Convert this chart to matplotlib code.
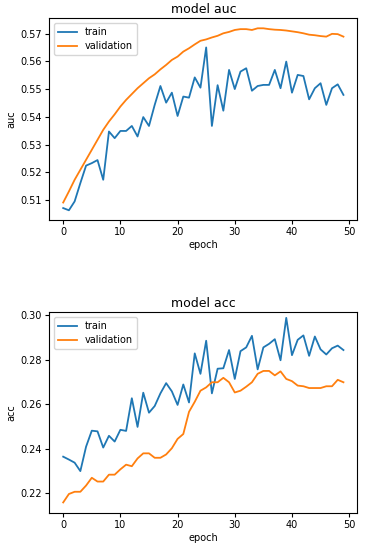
import matplotlib
matplotlib.use("Agg")
import matplotlib.pyplot as plt
import numpy as np

epochs = list(range(50))

train_auc = [0.5071, 0.5063, 0.5095, 0.5161, 0.5224, 0.5233, 0.5244, 0.5173, 0.5347, 0.5323,
             0.5349, 0.5349, 0.5367, 0.5329, 0.5399, 0.5367, 0.5443, 0.5511, 0.5451, 0.5487,
             0.5403, 0.5473, 0.5469, 0.5542, 0.5505, 0.5650, 0.5367, 0.5514, 0.5422, 0.5569,
             0.5500, 0.5563, 0.5575, 0.5494, 0.5511, 0.5515, 0.5515, 0.5569, 0.5503, 0.5599,
             0.5487, 0.5551, 0.5547, 0.5463, 0.5503, 0.5521, 0.5443, 0.5503, 0.5517, 0.5479]
val_auc = [0.5091, 0.5131, 0.5173, 0.5209, 0.5245, 0.5281, 0.5317, 0.5353, 0.5383, 0.5409,
           0.5437, 0.5461, 0.5482, 0.5503, 0.5521, 0.5539, 0.5553, 0.5571, 0.5587, 0.5605,
           0.5617, 0.5635, 0.5647, 0.5661, 0.5674, 0.5679, 0.5686, 0.5692, 0.5701, 0.5706,
           0.5713, 0.5716, 0.5716, 0.5713, 0.5719, 0.5719, 0.5716, 0.5714, 0.5713, 0.5711,
           0.5708, 0.5705, 0.5701, 0.5696, 0.5694, 0.5691, 0.5689, 0.5699, 0.5698, 0.5689]

train_acc = [0.2364, 0.2351, 0.2337, 0.2299, 0.2409, 0.2481, 0.2478, 0.2405, 0.2458, 0.2432,
             0.2485, 0.2480, 0.2627, 0.2498, 0.2652, 0.2562, 0.2592, 0.2649, 0.2695, 0.2658,
             0.2597, 0.2689, 0.2608, 0.2829, 0.2737, 0.2886, 0.2649, 0.2760, 0.2762, 0.2844,
             0.2714, 0.2839, 0.2856, 0.2908, 0.2757, 0.2856, 0.2872, 0.2893, 0.2798, 0.2989,
             0.2821, 0.2890, 0.2910, 0.2818, 0.2905, 0.2847, 0.2824, 0.2852, 0.2864, 0.2844]
val_acc = [0.2158, 0.2196, 0.2206, 0.2206, 0.2234, 0.2269, 0.2252, 0.2252, 0.2283, 0.2283,
           0.2307, 0.2328, 0.2321, 0.2356, 0.2379, 0.2379, 0.2359, 0.2359, 0.2374, 0.2402,
           0.2444, 0.2466, 0.2566, 0.2611, 0.2661, 0.2676, 0.2699, 0.2699, 0.2719, 0.2699,
           0.2653, 0.2661, 0.2679, 0.2699, 0.2737, 0.2750, 0.2750, 0.2730, 0.2748, 0.2714,
           0.2704, 0.2684, 0.2681, 0.2673, 0.2673, 0.2673, 0.2681, 0.2681, 0.2710, 0.2699]

titles = ["model auc", "model acc"]
ylabels = ["auc", "acc"]
legend_labels = ["train", "validation"]

fig = plt.figure(figsize=(3.67, 5.5), dpi=100)
ax1 = fig.add_axes([0.134, 0.600, 0.840, 0.3667])
ax2 = fig.add_axes([0.134, 0.0667, 0.840, 0.3655])

for ax, tr, va, title, yl in [(ax1, train_auc, val_auc, titles[0], ylabels[0]),
                              (ax2, train_acc, val_acc, titles[1], ylabels[1])]:
    ax.plot(epochs, tr, color="#1f77b4", lw=1.3, label=legend_labels[0])
    ax.plot(epochs, va, color="#ff7f0e", lw=1.3, label=legend_labels[1])
    ax.set_title(title, fontsize=9, pad=4)
    ax.set_xlabel("epoch", fontsize=7, labelpad=2)
    ax.set_ylabel(yl, fontsize=7, labelpad=3)
    ax.tick_params(labelsize=7, length=3, pad=2)
    ax.set_xticks([0, 10, 20, 30, 40, 50])
    ax.legend(loc="upper left", fontsize=7, handlelength=2.0, borderpad=0.4,
              labelspacing=0.4, framealpha=0.8)

ax1.set_xlim(-2.45, 51.45)
ax1.set_ylim(0.5028, 0.5755)
ax1.set_yticks([0.51, 0.52, 0.53, 0.54, 0.55, 0.56, 0.57])
ax2.set_xlim(-2.45, 51.45)
ax2.set_ylim(0.2109, 0.3014)
ax2.set_yticks([0.22, 0.24, 0.26, 0.28, 0.30])
ax2.set_yticklabels(["0.22", "0.24", "0.26", "0.28", "0.30"])

fig.savefig("out.png", dpi=100)
